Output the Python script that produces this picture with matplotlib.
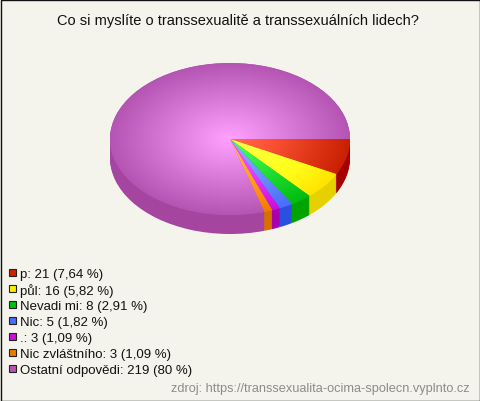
import numpy as np
import matplotlib
matplotlib.use('Agg')
import matplotlib.pyplot as plt
from matplotlib.colors import to_rgb
from matplotlib.patches import Rectangle

plt.rcParams['font.family'] = ['Liberation Sans', 'DejaVu Sans']

#data
labels = ['p', 'půl', 'Nevadi mi', 'Nic', '.', 'Nic zvláštního', 'Ostatní odpovědi']
counts = [21, 16, 8, 5, 3, 3, 219]
shares = ['7,64', '5,82', '2,91', '1,82', '1,09', '1,09', '80']
colors = ['#c82000', '#ffe400', '#00bc10', '#4a6cff', '#c810d8', '#ee7c00', '#b455b4']
side_colors = ['#a80000', '#e6d000', '#00a400', '#2a50e0', '#a800b0', '#d87000', '#a545a0']
legend_colors = ['#cc2200', '#ffee00', '#00c010', '#4a6cff', '#c810d8', '#ee7c00', '#b455b4']

title = 'Co si myslíte o transsexualitě a transsexuálních lidech?'
source = 'zdroj: https://transsexualita-ocima-spolecn.vyplnto.cz'
W, H = 480, 402
depth = 19
ry = 76

fig = plt.figure(figsize=(W / 100, H / 100), dpi=100, facecolor='#f4f4ec')

#background axes in pixels, for the texts and legend
bg = fig.add_axes([0, 0, 1, 1])
bg.set_xlim(0, W)
bg.set_ylim(H, 0)
bg.axis('off')
bg.add_patch(Rectangle((0.5, 0.5), W - 1, H - 1, fill=False, ec='#111111', lw=1))
bg.text(238, 21, title, fontsize=10.55, ha='center', va='center', color='#111111')
bg.text(187, 121, '80 %', fontsize=6.6, ha='center', va='center', color='black')
bg.text(470, 389.5, source, fontsize=9.2, ha='right', va='center', color='#8c8c8c')

for i in range(len(labels)):
    y = 274 + i * 16
    bg.add_patch(Rectangle((9, y - 4), 7, 7, fc=legend_colors[i], ec='#222222', lw=0.8))
    bg.text(20, y + 1, '%s: %d (%s %%)' % (labels[i], counts[i], shares[i]),
            fontsize=9.55, ha='left', va='center', color='#111111')

#pie axes, an untouched unit pie gets squashed into an ellipse
ax = fig.add_axes([110 / W, 1 - (64 + 2 * ry + depth) / H, 240 / W, (2 * ry + depth) / H])
ax.patch.set_alpha(0)

#side of the pie, stacked layers going downwards
for d in range(depth, 0, -1):
    ax.pie(counts, colors=side_colors, startangle=0, counterclock=False,
           center=(0, -d / ry), wedgeprops={'linewidth': 0})

#top of the pie
wedges, _ = ax.pie(counts, colors=colors, startangle=0, counterclock=False,
                   wedgeprops={'linewidth': 0})

#each slice gets lighter towards the centre of the pie
yy, xx = np.mgrid[-1:1:300j, -1:1:300j]
r = np.clip(np.sqrt(xx ** 2 + yy ** 2), 0, 1)
for wedge, color in zip(wedges, colors):
    shade = np.zeros((300, 300, 3))
    for c in range(3):
        shade[..., c] = np.clip(to_rgb(color)[c] + 0.3 * (1 - r), 0, 1)
    im = ax.imshow(shade, extent=(-1, 1, -1, 1), aspect='auto', zorder=5)
    im.set_clip_path(wedge)

ax.set_aspect('auto')
ax.set_xlim(-1, 1)
ax.set_ylim(-1 - depth / ry, 1)
ax.axis('off')

fig.savefig('out.png', dpi=100, facecolor=fig.get_facecolor())
